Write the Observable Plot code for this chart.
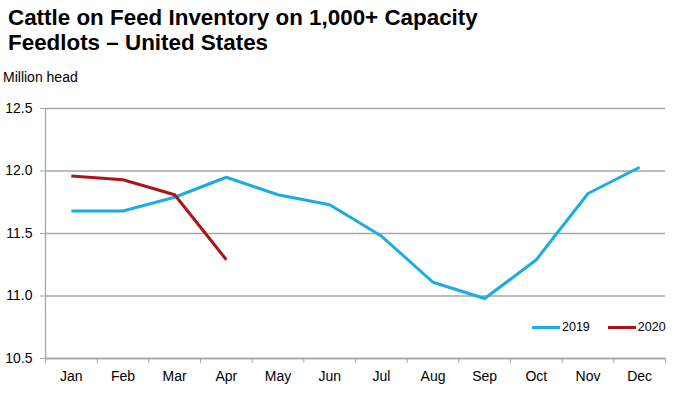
<!DOCTYPE html>
<html>
<head>
<meta charset="utf-8">
<script src="https://cdn.jsdelivr.net/npm/d3@7"></script>
<script src="https://cdn.jsdelivr.net/npm/@observablehq/plot@0.6"></script>
<style>
  html, body { margin: 0; padding: 0; background: #fff; }
  body { width: 676px; height: 395px; position: relative; overflow: hidden; font-family: "Liberation Sans", Arial, sans-serif; color: #000; }
  #title { position: absolute; left: 8px; top: 5px; font-size: 22.4px; font-weight: bold; line-height: 25px; }
  #unit { position: absolute; left: 3px; top: 69px; font-size: 14px; }
  #chart { position: absolute; left: 0; top: 92px; }
  #legend { position: absolute; top: 320px; left: 532px; font-size: 12.5px; display: flex; align-items: center; }
  #legend .sw { display: inline-block; width: 28px; height: 3px; margin-right: 2px; }
  #legend .item { display: flex; align-items: center; margin-right: 18px; }
</style>
</head>
<body>
<div id="title">Cattle on Feed Inventory on 1,000+ Capacity<br>Feedlots – United States</div>
<div id="unit">Million head</div>
<div id="chart"></div>
<div id="legend"></div>
<script>
const months = ["Jan","Feb","Mar","Apr","May","Jun","Jul","Aug","Sep","Oct","Nov","Dec"];
const values2019 = [11.68, 11.68, 11.79, 11.95, 11.81, 11.73, 11.48, 11.11, 10.98, 11.29, 11.82, 12.03];
const values2020 = [11.96, 11.93, 11.81, 11.29];
const seriesNames = ["2019", "2020"];
const seriesColors = ["#1aace3", "#b0121b"];
const yTicks = [10.5, 11.0, 11.5, 12.0, 12.5];

const data = [];
values2019.forEach((v, i) => data.push({series: "2019", month: months[i], idx: i + 0.5, value: v}));
values2020.forEach((v, i) => data.push({series: "2020", month: months[i], idx: i + 0.5, value: v}));

const gray = "#a6a6a6";
const plot = Plot.plot({
  width: 676,
  height: 303,
  marginLeft: 45,
  marginRight: 11,
  marginTop: 16,
  marginBottom: 37,
  style: {fontFamily: "Liberation Sans, Arial, sans-serif", fontSize: "14px", color: "#000", background: "transparent"},
  x: {domain: [0, months.length], axis: null},
  y: {domain: [10.5, 12.5], axis: null},
  color: {domain: seriesNames, range: seriesColors},
  marks: [
    Plot.gridY(yTicks, {stroke: gray, strokeOpacity: 1, strokeWidth: 1.3}),
    Plot.axisY(yTicks, {label: null, tickFormat: d3.format(".1f"), tickSize: 5, stroke: gray, tickPadding: 8, fill: "#000", fontSize: 14}),
    Plot.ruleX([0], {stroke: gray, strokeWidth: 1.3}),
    Plot.ruleY([10.5], {stroke: gray, strokeWidth: 1.3}),
    Plot.axisX(d3.range(months.length + 1), {label: null, tickSize: 5, tickFormat: () => "", stroke: gray}),
    Plot.axisX(months.map((m, i) => i + 0.5), {label: null, tickSize: 0, tickPadding: 13, tickFormat: d => months[Math.floor(d)], fill: "#000", fontSize: 14}),
    Plot.line(data, {x: "idx", y: "value", z: "series", stroke: "series", strokeWidth: 3, strokeLinejoin: "miter", strokeLinecap: "butt"})
  ]
});
document.getElementById("chart").appendChild(plot);

const legend = document.getElementById("legend");
seriesNames.forEach((s, i) => {
  const item = document.createElement("span");
  item.className = "item";
  const sw = document.createElement("span");
  sw.className = "sw";
  sw.style.background = seriesColors[i];
  item.appendChild(sw);
  item.appendChild(document.createTextNode(s));
  legend.appendChild(item);
});
</script>
</body>
</html>
